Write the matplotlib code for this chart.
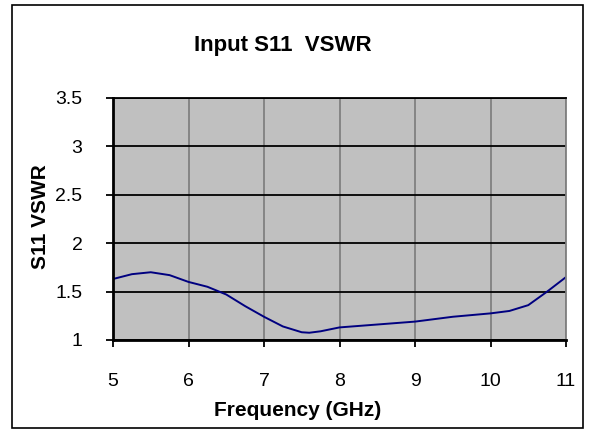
import numpy as np
import matplotlib
matplotlib.use('Agg')
import matplotlib.pyplot as plt
from matplotlib.patches import Rectangle

# values
freq_ghz = [5.0, 5.25, 5.5, 5.75, 6.0, 6.25, 6.5, 6.75, 7.0, 7.25, 7.5, 7.6,
            7.75, 8.0, 8.5, 9.0, 9.5, 10.0, 10.25, 10.5, 10.75, 11.0]
vswr = [1.63, 1.68, 1.70, 1.67, 1.60, 1.55, 1.47, 1.35, 1.24, 1.14, 1.08, 1.075,
        1.09, 1.13, 1.16, 1.19, 1.24, 1.275, 1.30, 1.36, 1.50, 1.65]
x_ticks = [5, 6, 7, 8, 9, 10, 11]
y_ticks = [1, 1.5, 2, 2.5, 3, 3.5]
y_tick_labels = ['1', '1.5', '2', '2.5', '3', '3.5']

plt.rcParams['font.family'] = ['Liberation Sans', 'DejaVu Sans']

fig = plt.figure(figsize=(5.95, 4.30), dpi=100)
fig.patch.set_facecolor('white')

# outer chart border
fig.patches.append(Rectangle((12 / 595, 2 / 430), 571 / 595, 423 / 430,
                             transform=fig.transFigure, fill=False,
                             edgecolor='black', linewidth=1.2))

ax = fig.add_axes([113 / 595, 90 / 430, 453 / 595, 242 / 430])
ax.set_facecolor('#C0C0C0')

ax.plot(freq_ghz, vswr, color='#000080', linewidth=1.4)

ax.set_xlim(5, 11)
ax.set_ylim(1, 3.5)
ax.set_xticks(x_ticks)
ax.set_yticks(y_ticks)
ax.set_yticklabels(y_tick_labels)

ax.grid(axis='y', color='black', linewidth=1.3)
ax.grid(axis='x', color='#808080', linewidth=1.3)
ax.set_axisbelow(True)

for side in ['left', 'bottom']:
    ax.spines[side].set_color('black')
    ax.spines[side].set_linewidth(2)
ax.spines['top'].set_color('black')
ax.spines['top'].set_linewidth(1.3)
ax.spines['right'].set_color('#808080')
ax.spines['right'].set_linewidth(1.3)

ax.tick_params(axis='both', direction='out', length=5, width=1.3,
               labelsize=14, color='black')
ax.tick_params(axis='x', pad=19)
ax.tick_params(axis='y', pad=17)

# axis titles sit where the reference puts them
fig.text(298 / 595, 1 - 410 / 430, 'Frequency (GHz)', ha='center', va='center',
         fontsize=15, fontweight='bold')
fig.text(40 / 595, 1 - 217 / 430, 'S11 VSWR', ha='center', va='center',
         rotation=90, fontsize=15, fontweight='bold')

fig.text(283 / 595, 1 - 45 / 430, 'Input S11  VSWR', ha='center', va='center',
         fontsize=16, fontweight='bold')

fig.savefig('out.png', dpi=100)
